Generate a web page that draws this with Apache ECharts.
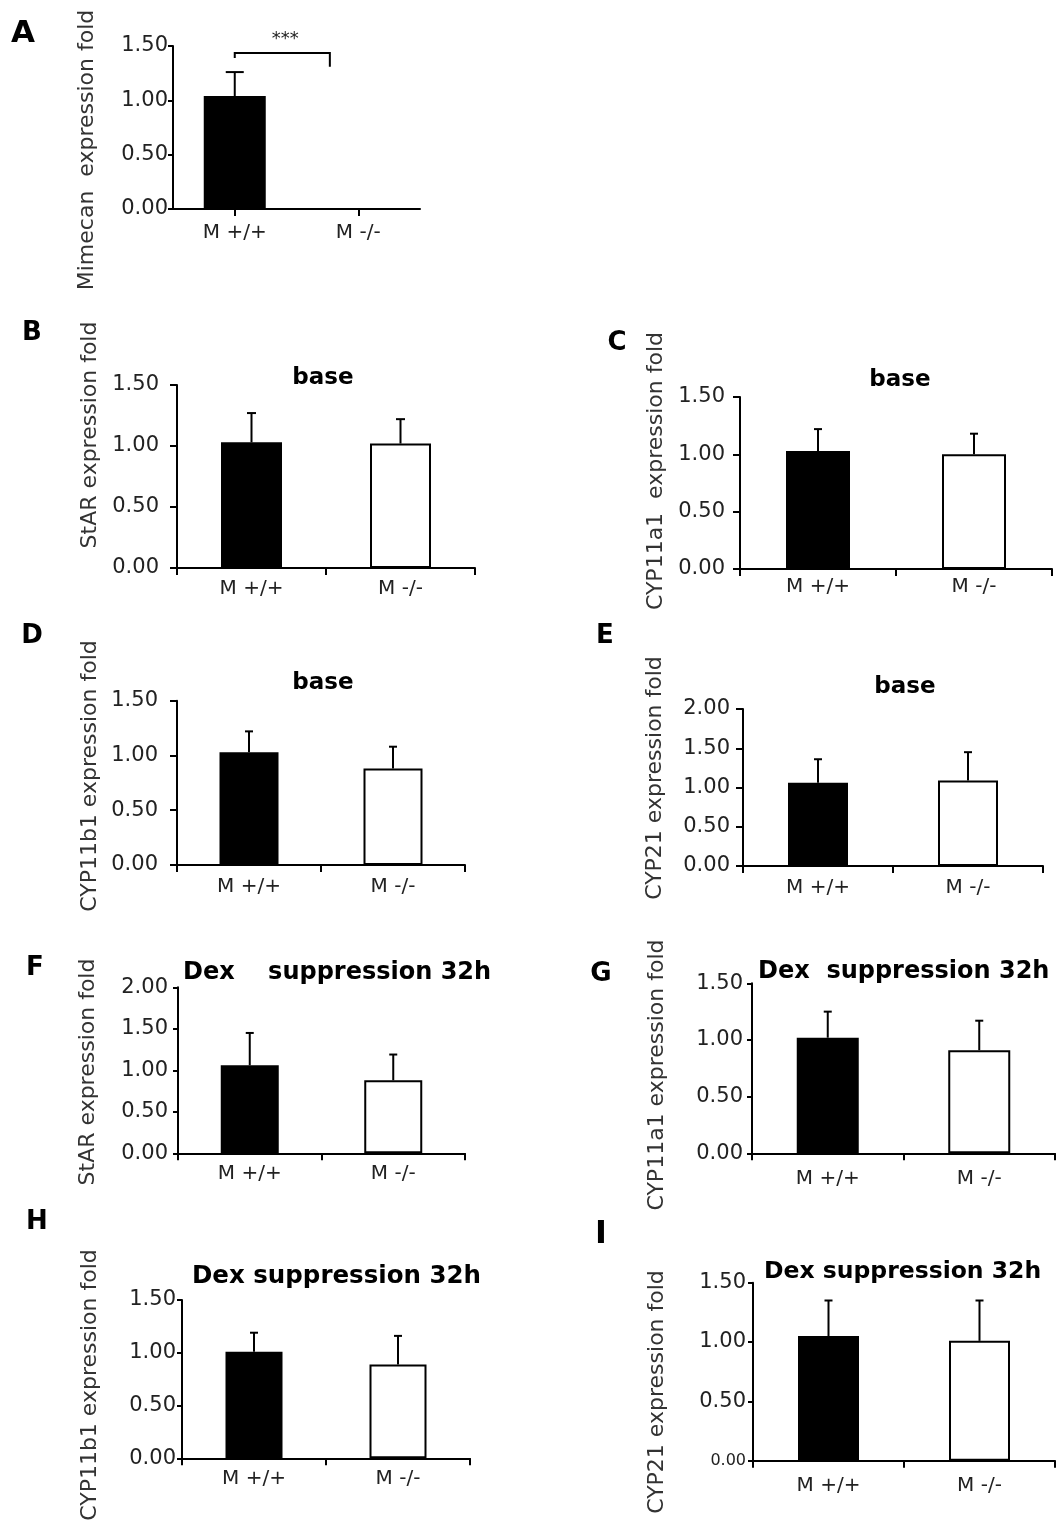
<!DOCTYPE html>
<html>
<head>
<meta charset="utf-8">
<script src="https://cdn.jsdelivr.net/npm/echarts@6/dist/echarts.min.js"></script>
<style>html,body{margin:0;padding:0;background:#fff}#c{width:1056px;height:1526px}</style>
</head>
<body>
<div id="c"></div>
<script>
// ---- data ----
const categories = ['M +/+', 'M -/-'];
const meanA = [1.04, 0];     const upperA = [1.26, null];
const meanB = [1.03, 1.02];  const upperB = [1.27, 1.22];
const meanC = [1.03, 1.00];  const upperC = [1.22, 1.18];
const meanD = [1.03, 0.88];  const upperD = [1.22, 1.08];
const meanE = [1.06, 1.09];  const upperE = [1.36, 1.45];
const meanF = [1.06, 0.88];  const upperF = [1.45, 1.19];
const meanG = [1.02, 0.91];  const upperG = [1.25, 1.17];
const meanH = [1.01, 0.89];  const upperH = [1.19, 1.16];
const meanI = [1.05, 1.01];  const upperI = [1.35, 1.35];
// significance bracket of panel A: x positions in category units, heights in fold
const bracketAx = [0, 0.77];
const bracketAy = [1.39, 1.435, 1.31]; // left leg bottom, bar height, right leg bottom
const starA = '***';
const yLabelsA = 'Mimecan  expression fold';
const yLabelsB = 'StAR expression fold';
const yLabelsC = 'CYP11a1  expression fold';
const yLabelsD = 'CYP11b1 expression fold';
const yLabelsE = 'CYP21 expression fold';
const yLabelsF = 'StAR expression fold';
const yLabelsG = 'CYP11a1 expression fold';
const yLabelsH = 'CYP11b1 expression fold';
const yLabelsI = 'CYP21 expression fold';
const titleBase = 'base';
const titleF = 'Dex    suppression 32h';
const titleG = 'Dex  suppression 32h';
const titleH = 'Dex suppression 32h';
const titleI = 'Dex suppression 32h';

// ---- layout ----
const panels = [
  {L:'A', g:[173,46,247,163], max:1.5, mean:meanA, up:upperA, bw:62, cap:18, xm:14, ym:5, tl:5, align:true,
   yn:yLabelsA, ynp:[87,150], lp:[23,34], ls:31},
  {L:'B', g:[177,385,298,183], max:1.5, mean:meanB, up:upperB, bw:61, cap:9, xm:11, ym:18, tl:7,
   yn:yLabelsB, ynp:[90,435], lp:[32,333], ls:26, t:titleBase, tp:[323,378], ts:23, tc:true},
  {L:'C', g:[740,397,312,172], max:1.5, mean:meanC, up:upperC, bw:64, cap:8, xm:8, ym:15, tl:7,
   yn:yLabelsC, ynp:[656,471], lp:[617,343], ls:26, t:titleBase, tp:[900,380], ts:23, tc:true},
  {L:'D', g:[177,700.7,288,164.3], max:1.5, mean:meanD, up:upperD, bw:59, cap:8, xm:12, ym:19, tl:7,
   yn:yLabelsD, ynp:[90,776], lp:[32,636], ls:26, t:titleBase, tp:[323,683], ts:23, tc:true},
  {L:'E', g:[743,709,300,157], max:2, mean:meanE, up:upperE, bw:60, cap:8, xm:12, ym:13, tl:7,
   yn:yLabelsE, ynp:[655,778], lp:[605,636], ls:26, t:titleBase, tp:[905,687], ts:23, tc:true},
  {L:'F', g:[178,987.3,287,166], max:2, mean:meanF, up:upperF, bw:58, cap:8, xm:10, ym:10, tl:5,
   yn:yLabelsF, ynp:[88,1072], lp:[35,968], ls:26, t:titleF, tp:[183,973], ts:24},
  {L:'G', g:[752,983.3,303,170], max:1.5, mean:meanG, up:upperG, bw:62, cap:8, xm:15, ym:9, tl:5,
   yn:yLabelsG, ynp:[657,1075], lp:[601,974], ls:26, t:titleG, tp:[758,972], ts:24},
  {L:'H', g:[182,1300,288,158.3], max:1.5, mean:meanH, up:upperH, bw:57, cap:8, xm:10, ym:6, tl:5,
   yn:yLabelsH, ynp:[90,1385], lp:[37,1222], ls:26, t:titleH, tp:[192,1277], ts:24.5},
  {L:'I', g:[753,1282.7,302,178], max:1.5, mean:meanI, up:upperI, bw:61, cap:8, xm:15, ym:7, tl:5, smallZero:true,
   yn:yLabelsI, ynp:[657,1392], lp:[601,1235], ls:32, t:titleI, tp:[764,1272], ts:23.5}
];

const chart = echarts.init(document.getElementById('c'), null, {renderer:'canvas'});
const grid = [], xAxis = [], yAxis = [], series = [], graphic = [];
const txt = '#222';

panels.forEach((p, i) => {
  grid.push({left:p.g[0], top:p.g[1], width:p.g[2], height:p.g[3], containLabel:false, outerBoundsMode:'none'});
  xAxis.push({
    type:'category', gridIndex:i, data:categories, boundaryGap:true,
    axisLine:{onZero:false, lineStyle:{color:'#000', width:2}},
    axisTick:{show:true, length:7, alignWithLabel:!!p.align, lineStyle:{color:'#000', width:2}},
    axisLabel:{color:txt, fontFamily:'DejaVu Sans', fontSize:20, margin:p.xm},
    splitLine:{show:false}
  });
  yAxis.push({
    type:'value', gridIndex:i, min:0, max:p.max, interval:0.5,
    axisLine:{show:true, onZero:false, lineStyle:{color:'#000', width:2}},
    axisTick:{show:true, length:p.tl, lineStyle:{color:'#000', width:2}},
    axisLabel:{color:txt, fontFamily:'DejaVu Sans', fontSize:21, margin:p.ym,
      formatter: v => (p.smallZero && v === 0) ? '{s|0.00}' : v.toFixed(2),
      rich:{s:{fontSize:16, fontFamily:'DejaVu Sans', color:txt}}},
    splitLine:{show:false}
  });
  series.push({
    type:'bar', xAxisIndex:i, yAxisIndex:i, barWidth:p.bw, silent:true, z:2,
    data:p.mean.map((v, k) => ({value:v, itemStyle: k === 0
      ? {color:'#000', borderColor:'#000', borderWidth:v ? 2 : 0}
      : {color:'#fff', borderColor:'#000', borderWidth:v ? 2 : 0}}))
  });
  const errData = [];
  p.mean.forEach((v, k) => { if (p.up[k] != null) errData.push([k, v, p.up[k]]); });
  const capHalf = p.cap / 2;
  series.push({
    type:'custom', xAxisIndex:i, yAxisIndex:i, silent:true, z:3, clip:false,
    encode:{x:0, y:[1,2]},
    data:errData,
    renderItem:(params, api) => {
      const a = api.coord([api.value(0), api.value(1)]);
      const b = api.coord([api.value(0), api.value(2)]);
      return {type:'group', children:[
        {type:'line', shape:{x1:b[0], y1:a[1], x2:b[0], y2:b[1]}, style:{stroke:'#000', lineWidth:2}},
        {type:'line', shape:{x1:b[0]-capHalf, y1:b[1], x2:b[0]+capHalf, y2:b[1]}, style:{stroke:'#000', lineWidth:2}}
      ]};
    }
  });
  graphic.push({type:'text', x:p.ynp[0], y:p.ynp[1], rotation:Math.PI/2, silent:true,
    style:{text:p.yn, fill:'#333', font:'22px "DejaVu Sans"', textAlign:'center', textVerticalAlign:'middle'}});
  graphic.push({type:'text', x:p.lp[0], y:p.lp[1], silent:true,
    style:{text:p.L, fill:'#000', font:'bold ' + p.ls + 'px "DejaVu Sans"', textAlign:'center', textVerticalAlign:'middle'}});
  if (p.t) {
    graphic.push({type:'text', x:p.tp[0], y:p.tp[1], silent:true,
      style:{text:p.t, fill:'#000', font:'bold ' + p.ts + 'px "DejaVu Sans"', textAlign:p.tc ? 'center' : 'left', textVerticalAlign:'middle'}});
  }
});

// significance bracket for panel A, drawn on a hidden value x axis (category centres at 0 and 1)
xAxis.push({type:'value', gridIndex:0, min:-0.5, max:1.5, show:false, axisLine:{onZero:false}});
const hx = xAxis.length - 1;
series.push({
  type:'custom', xAxisIndex:hx, yAxisIndex:0, silent:true, z:4, clip:false,
  data:[[bracketAx[0], bracketAy[0], bracketAx[1], bracketAy[1], bracketAy[2]]],
  encode:{x:[0,2], y:[1,3,4]},
  renderItem:(params, api) => {
    const p1 = api.coord([api.value(0), api.value(1)]);
    const p2 = api.coord([api.value(0), api.value(3)]);
    const p3 = api.coord([api.value(2), api.value(3)]);
    const p4 = api.coord([api.value(2), api.value(4)]);
    return {type:'group', children:[
      {type:'polyline', shape:{points:[p1, p2, p3, p4]}, style:{stroke:'#000', lineWidth:2, fill:null}},
      {type:'text', x:(p2[0] + p3[0]) / 2 + 3, y:p2[1] - 5,
       style:{text:starA, fill:'#222', font:'18px "DejaVu Sans"', textAlign:'center', textVerticalAlign:'bottom'}}
    ]};
  }
});

chart.setOption({animation:false, backgroundColor:'#fff', grid, xAxis, yAxis, series, graphic});
</script>
</body>
</html>
